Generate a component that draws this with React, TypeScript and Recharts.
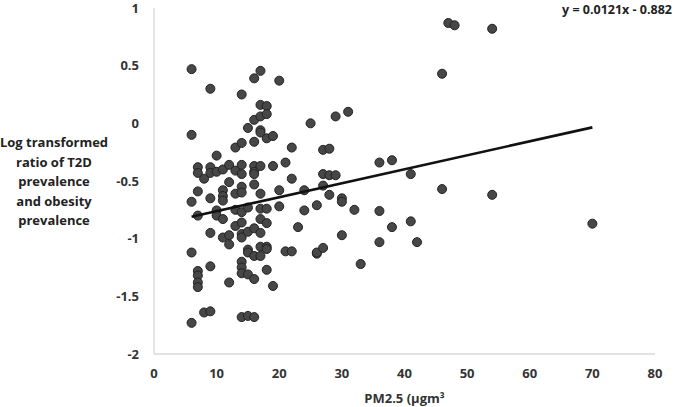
import { ScatterChart, Scatter, XAxis, YAxis } from 'recharts';

// PM2.5 (x) against log ratio of T2D / obesity prevalence (y)
const pm25 = [
  6, 6, 6, 6, 6,
  7, 7, 7, 7, 7, 7, 7, 7,
  8, 8,
  9, 9, 9, 9, 9, 9, 9,
  10, 10, 10, 10,
  11, 11, 11, 11, 11, 11,
  12, 12, 12, 12, 12,
  13, 13, 13, 13, 13,
  14, 14, 14, 14, 14, 14, 14, 14, 14, 14, 14, 14, 14, 14,
  15, 15, 15, 15, 15, 15, 15,
  16, 16, 16, 16, 16, 16, 16, 16, 16, 16, 16,
  17, 17, 17, 17, 17, 17, 17, 17, 17, 17, 17, 17,
  18, 18, 18, 18, 18, 18, 18, 18,
  19, 19, 19,
  20, 20, 20,
  21, 21,
  22, 22, 22,
  23,
  24, 24,
  25,
  26, 26, 26,
  27, 27, 27, 27,
  28, 28, 28,
  29, 29,
  30, 30, 30,
  31,
  32,
  33,
  36, 36, 36,
  38, 38,
  41, 41,
  42,
  46, 46,
  47,
  48,
  54, 54,
  70,
];

const logRatio = [
  0.47, -0.1, -0.68, -1.12, -1.73,
  -0.38, -0.43, -0.59, -0.8, -1.28, -1.32, -1.38, -1.42,
  -0.48, -1.64,
  0.3, -0.38, -0.43, -0.65, -0.95, -1.24, -1.63,
  -0.28, -0.42, -0.755, -0.8,
  -0.4, -0.58, -0.63, -0.67, -0.83, -0.99,
  -0.36, -0.51, -0.97, -1.05, -1.38,
  -0.21, -0.41, -0.61, -0.75, -0.89,
  0.25, -0.17, -0.36, -0.44, -0.55, -0.6, -0.77, -0.86, -0.96, -0.99, -1.2, -1.25, -1.3, -1.68,
  -0.04, -0.73, -0.94, -1.095, -1.12, -1.31, -1.67,
  0.39, 0.03, -0.16, -0.37, -0.42, -0.44, -0.53, -0.91, -1.15, -1.35, -1.68,
  0.455, 0.16, 0.06, -0.06, -0.08, -0.37, -0.61, -0.74, -0.83, -0.95, -1.07, -1.15,
  0.15, 0.08, -0.13, -0.74, -0.865, -1.07, -1.09, -1.27,
  -0.11, -0.37, -1.41,
  0.37, -0.58, -0.72,
  -0.34, -1.11,
  -0.21, -0.48, -1.11,
  -0.9,
  -0.58, -0.755,
  0.0,
  -0.71, -1.13, -1.12,
  -0.23, -0.44, -0.54, -1.08,
  -0.22, -0.45, -0.62,
  0.06, -0.45,
  -0.65, -0.68, -0.97,
  0.1,
  -0.75,
  -1.22,
  -0.34, -0.76, -1.03,
  -0.32, -0.9,
  -0.44, -0.85,
  -1.03,
  0.43, -0.57,
  0.87,
  0.85,
  0.82, -0.62,
  -0.87,
];

// trendline end points (y = 0.0121x - 0.882)
const trendX = [6, 70];
const trendY = [-0.81, -0.035];

const xTicks = [0, 10, 20, 30, 40, 50, 60, 70, 80];
const yTicks = [-2, -1.5, -1, -0.5, 0, 0.5, 1];
const yLabelLines = [
  'Log transformed',
  'ratio of T2D',
  'prevalence',
  'and obesity',
  'prevalence',
];

const points = pm25.map((x, i) => ({ x, y: logRatio[i] }));
const trend = trendX.map((x, i) => ({ x, y: trendY[i] }));

const FONT = '"Open Sans", sans-serif';
const tickStyle = { fontFamily: FONT, fontSize: 13, fontWeight: 700, fill: '#333' };

const Dot = (props: any) => (
  <circle cx={props.cx} cy={props.cy} r={4.5} fill="#474747" stroke="#222" strokeWidth={1} />
);

const YLabel = () => (
  <text
    x={54}
    y={143}
    textAnchor="middle"
    fontFamily={FONT}
    fontSize={13}
    fontWeight={700}
    fill="#222"
  >
    {yLabelLines.map((line, i) => (
      <tspan key={i} x={54} dy={i === 0 ? 4 : 19.5}>
        {line}
      </tspan>
    ))}
  </text>
);

export default function App() {
  return (
    <div style={{ position: 'absolute', left: 0, top: 0, background: '#fff' }}>
      <ScatterChart width={675} height={407} margin={{ top: 8, right: 20, bottom: 0, left: 0 }}>
        <XAxis
          type="number"
          dataKey="x"
          domain={[0, 80]}
          ticks={xTicks}
          interval={0}
          height={53}
          tickLine={false}
          tickSize={0}
          tickMargin={15}
          axisLine={{ stroke: '#d9d9d9', strokeWidth: 1.3 }}
          tick={tickStyle}
          label={{
            value: 'PM2.5 (µgm³',
            position: 'insideBottom',
            offset: 4,
            style: { fontFamily: FONT, fontSize: 13, fontWeight: 700, fill: '#333' },
          }}
        />
        <YAxis
          type="number"
          dataKey="y"
          domain={[-2, 1]}
          ticks={yTicks}
          interval={0}
          width={154}
          tickLine={false}
          tickSize={0}
          tickMargin={15}
          axisLine={{ stroke: '#d9d9d9', strokeWidth: 1.3 }}
          tick={tickStyle}
          label={<YLabel />}
        />
        <Scatter data={points} shape={Dot} isAnimationActive={false} />
        <Scatter
          data={trend}
          line={{ stroke: '#111', strokeWidth: 2.6 }}
          shape={() => <g />}
          isAnimationActive={false}
        />
        <text
          x={672}
          y={14}
          textAnchor="end"
          fontFamily={FONT}
          fontSize={12.5}
          fontWeight={700}
          fill="#222"
        >
          y = 0.0121x - 0.882
        </text>
      </ScatterChart>
    </div>
  );
}
